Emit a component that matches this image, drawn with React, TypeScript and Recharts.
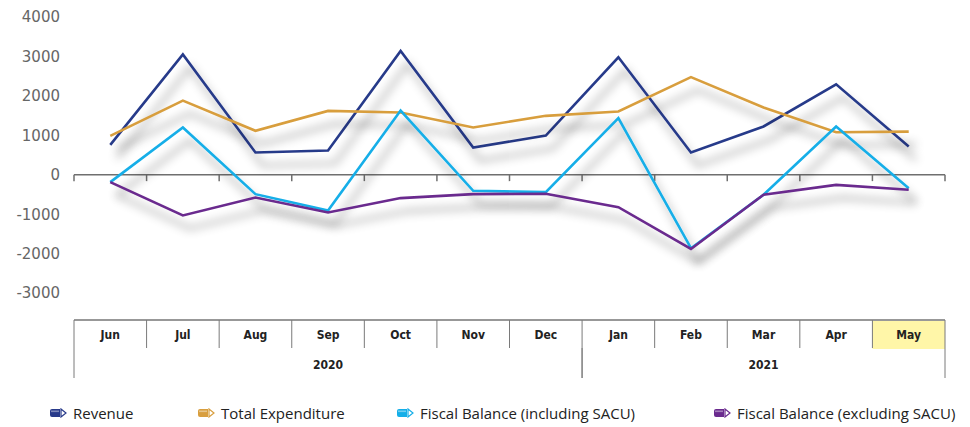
import React from "react";
import {
  LineChart,
  Line,
  XAxis,
  YAxis,
  ReferenceLine,
  Legend,
} from "recharts";

const months = ["Jun", "Jul", "Aug", "Sep", "Oct", "Nov", "Dec", "Jan", "Feb", "Mar", "Apr", "May"];
const years = [
  { label: "2020", first: 0, last: 6 },
  { label: "2021", first: 7, last: 11 },
];
const revenue = [760, 3050, 565, 615, 3140, 690, 995, 2980, 565, 1225, 2295, 715];
const expenditure = [985, 1880, 1115, 1620, 1580, 1200, 1495, 1605, 2475, 1705, 1080, 1095];
const balanceIncl = [-185, 1200, -490, -905, 1630, -405, -440, 1435, -1860, -505, 1225, -340];
const balanceExcl = [-185, -1030, -575, -955, -590, -490, -480, -820, -1880, -505, -255, -380];
const yTicks = [-3000, -2000, -1000, 0, 1000, 2000, 3000, 4000];

const series = [
  { key: "revenue", name: "Revenue", color: "#283A8A" },
  { key: "expenditure", name: "Total Expenditure", color: "#D89E3E" },
  { key: "incl", name: "Fiscal Balance (including SACU)", color: "#14AEE8" },
  { key: "excl", name: "Fiscal Balance (excluding SACU)", color: "#6A2A8E" },
];

const data = months.map((m, i) => ({
  idx: i,
  month: m,
  revenue: revenue[i],
  expenditure: expenditure[i],
  incl: balanceIncl[i],
  excl: balanceExcl[i],
}));

const highlighted = months.length - 1; // May is shaded

// layout
const W = 970;
const H = 427;
const Y_W = 74;
const RIGHT = 25;
const PLOT_W = W - Y_W - RIGHT;
const BAND = PLOT_W / months.length;
const MONTH_ROW = 28;
const YEAR_ROW = 30;
const condensed = "'Liberation Sans Narrow', 'DejaVu Sans Condensed', 'Roboto', sans-serif";

function MonthTick(props: any) {
  const { x, y, payload } = props;
  const i = payload.value;
  const left = x - BAND / 2;
  return (
    <g>
      {i === highlighted && (
        <rect x={left} y={y + 1} width={BAND} height={MONTH_ROW} fill="#FFF6A8" />
      )}
      <line x1={left} y1={y} x2={left} y2={y + MONTH_ROW} stroke="#7a7a7a" />
      {i === months.length - 1 && (
        <line x1={left + BAND} y1={y} x2={left + BAND} y2={y + MONTH_ROW} stroke="#7a7a7a" />
      )}
      <text
        x={x}
        y={y + 19}
        textAnchor="middle"
        fontFamily={condensed}
        fontWeight={700}
        fontSize={12}
        fill="#222"
      >
        {months[i]}
      </text>
    </g>
  );
}

function YearTick(props: any) {
  const { x, y, payload } = props;
  const yr = years.find((d) => (d.first + d.last) / 2 === payload.value);
  if (!yr) return null;
  const half = ((yr.last - yr.first + 1) * BAND) / 2;
  return (
    <g>
      <line x1={x - half} y1={y} x2={x - half} y2={y + YEAR_ROW} stroke="#7a7a7a" />
      <line x1={x + half} y1={y} x2={x + half} y2={y + YEAR_ROW} stroke="#7a7a7a" />
      <text
        x={x}
        y={y + 21}
        textAnchor="middle"
        fontFamily={condensed}
        fontWeight={700}
        fontSize={12}
        fill="#222"
      >
        {yr.label}
      </text>
    </g>
  );
}

function PencilIcon({ color }: { color: string }) {
  return (
    <svg width={18} height={10} style={{ display: "block", flexShrink: 0 }}>
      <path d="M1 3 Q1 1 3 1 H11 V9 H3 Q1 9 1 7 Z" fill={color} />
      <rect x={2} y={2.5} width={8} height={1.6} fill="#fff" opacity={0.4} />
      <path d="M12 1 L17 5 L12 9 Z" fill="none" stroke={color} strokeWidth={1.2} />
    </svg>
  );
}

const legendWidths = [148, 199, 317, 250];

function LegendBox() {
  return (
    <div style={{ display: "flex", paddingLeft: 49, height: 20, alignItems: "center", width: W }}>
      {series.map((s, i) => (
        <div
          key={s.key}
          style={{
            width: legendWidths[i],
            flexShrink: 0,
            display: "flex",
            alignItems: "center",
            gap: 6,
          }}
        >
          <PencilIcon color={s.color} />
          <span
            style={{
              fontFamily: "'Open Sans', sans-serif",
              fontSize: 15,
              color: "#222",
              whiteSpace: "nowrap",
            }}
          >
            {s.name}
          </span>
        </div>
      ))}
    </div>
  );
}

export default function App() {
  const bounds = months.map((_, i) => i - 0.5).concat(months.length - 0.5);
  return (
    <div style={{ position: "absolute", left: 0, top: 0, width: W, height: H, background: "#fff" }}>
      <LineChart
        width={W}
        height={H}
        data={data}
        margin={{ top: 17, right: RIGHT, left: 0, bottom: 4 }}
      >
        <defs>
          <filter
            id="lineShadow"
            filterUnits="userSpaceOnUse"
            x={0}
            y={0}
            width={W}
            height={H}
          >
            <feGaussianBlur in="SourceAlpha" stdDeviation={5} />
            <feOffset dx={7} dy={13} result="off" />
            <feFlood floodColor="#000" floodOpacity={0.42} />
            <feComposite in2="off" operator="in" />
            <feMerge>
              <feMergeNode />
              <feMergeNode in="SourceGraphic" />
            </feMerge>
          </filter>
        </defs>

        <XAxis
          dataKey="idx"
          type="number"
          domain={[-0.5, months.length - 0.5]}
          ticks={months.map((_, i) => i)}
          interval={0}
          height={MONTH_ROW}
          tickSize={0}
          tickMargin={0}
          tickLine={false}
          axisLine={{ stroke: "#333", strokeWidth: 1.2 }}
          tick={<MonthTick />}
        />
        <XAxis
          xAxisId="year"
          dataKey="idx"
          type="number"
          domain={[-0.5, months.length - 0.5]}
          ticks={years.map((d) => (d.first + d.last) / 2)}
          interval={0}
          height={55}
          tickSize={0}
          tickMargin={0}
          tickLine={false}
          axisLine={false}
          tick={<YearTick />}
        />
        <YAxis
          domain={[-3680, 4000]}
          ticks={yTicks}
          interval={0}
          width={Y_W}
          axisLine={false}
          tickLine={false}
          tickSize={0}
          tickMargin={14}
          tick={{ fill: "#666", fontSize: 15, fontFamily: "'DejaVu Sans', sans-serif" }}
        />

        <ReferenceLine y={0} stroke="#6f6f6f" strokeWidth={1.5} ifOverflow="visible" />
        {bounds.map((b) => (
          <ReferenceLine
            key={b}
            segment={[
              { x: b, y: 0 },
              { x: b, y: -160 },
            ]}
            stroke="#6f6f6f"
            strokeWidth={1.5}
            ifOverflow="visible"
          />
        ))}

        <Legend
          verticalAlign="bottom"
          height={20}
          wrapperStyle={{ left: 0, width: W }}
          content={<LegendBox />}
        />

        {series.map((s) => (
          <Line
            key={s.key}
            dataKey={s.key}
            name={s.name}
            type="linear"
            stroke={s.color}
            strokeWidth={2.6}
            dot={false}
            activeDot={false}
            filter="url(#lineShadow)"
            isAnimationActive={false}
          />
        ))}
      </LineChart>
    </div>
  );
}
